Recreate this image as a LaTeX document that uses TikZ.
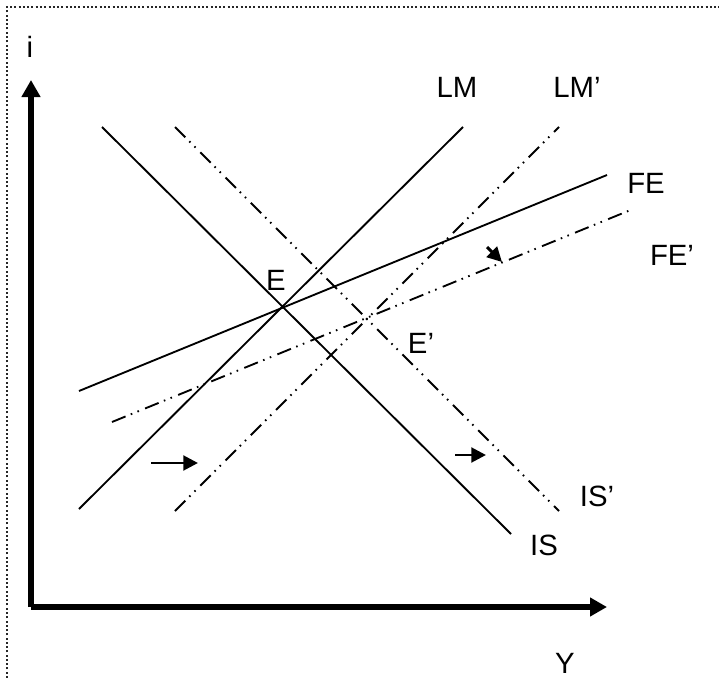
\documentclass[tikz,border=0pt]{standalone}
\usepackage{fontspec}
\setmainfont{Liberation Sans}
\usetikzlibrary{arrows.meta}

\begin{document}
\begin{tikzpicture}[x=0.75pt,y=-0.75pt,>=Latex,
  oldcurve/.style={line width=1.4pt},
  newcurve/.style={line width=1.4pt,dash pattern=on 11pt off 4.2pt on 1.2pt off 4.2pt on 1.2pt off 5pt},
  axisline/.style={line width=4.5pt,-{Triangle[length=12.75pt,width=13.5pt]}},
  movearrow/.style={line width=2.2pt,-{Triangle[length=11pt,width=11pt]}},
  lbl/.style={anchor=base,inner sep=0pt,font=\fontsize{22}{26}\selectfont}]
\useasboundingbox (0,0) rectangle (719,678);
\draw[black!85,line width=1.5pt,dash pattern=on 1.5pt off 1.7pt] (7,678)--(7,7)--(719,7);
% axes
\coordinate (O) at (31,607); \coordinate (itop) at (31,80); \coordinate (Yend) at (607,607);
\draw[axisline] (O)--(itop); \draw[axisline] (O)--(Yend);
\node[lbl] (i) at (30,57){i};
\node[lbl] (Y) at (565,673){Y};
% original curves
\coordinate (ISa) at (102,127); \coordinate (ISb) at (511,534);
\coordinate (LMa) at (79,509); \coordinate (LMb) at (463,127);
\coordinate (FEa) at (79,391); \coordinate (FEb) at (607,175);
\draw[oldcurve] (ISa)--(ISb); \draw[oldcurve] (LMa)--(LMb); \draw[oldcurve] (FEa)--(FEb);
\node[lbl] (IS) at (544,555){IS};
\node[lbl] (LM) at (457,97){LM};
\node[lbl] (FE) at (646,193){FE};
\node[lbl] (E) at (276,290){E};
% shifted curves
\coordinate (ISpa) at (175,127); \coordinate (ISpb) at (559,511);
\coordinate (LMpa) at (175,511); \coordinate (LMpb) at (559,127);
\coordinate (FEpa) at (112,422); \coordinate (FEpb) at (633,209);
\draw[newcurve] (ISpa)--(ISpb); \draw[newcurve] (LMpa)--(LMpb); \draw[newcurve] (FEpa)--(FEpb);
\node[lbl] (ISp) at (597,506){IS’};
\node[lbl] (LMp) at (577,97){LM’};
\node[lbl] (FEp) at (672,265){FE’};
\node[lbl] (Ep) at (421,353){E’};
% shift arrows
\coordinate (m1a) at (151,463); \coordinate (m1b) at (198,463);
\coordinate (m2a) at (455,455); \coordinate (m2b) at (486,455);
\coordinate (m3a) at (487,247); \coordinate (m3b) at (502,262);
\draw[movearrow] (m1a)--(m1b); \draw[movearrow] (m2a)--(m2b); \draw[movearrow] (m3a)--(m3b);
\end{tikzpicture}
\end{document}
